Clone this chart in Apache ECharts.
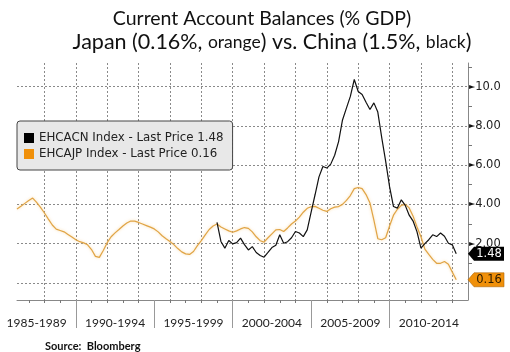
<!DOCTYPE html>
<html>
<head>
<meta charset="utf-8">
<script src="https://cdn.jsdelivr.net/npm/echarts@6/dist/echarts.min.js"></script>
<style>
  html, body { margin: 0; padding: 0; background: #fff; }
  #main { width: 510px; height: 352px; }
</style>
</head>
<body>
<div id="main"></div>
<script>
// x range in decimal years (first quarter shown .. right edge)
var firstQuarter = 1986.25;
var lastQuarter = 2015.0;
// axis marks on the time axis
var yearTicks = [1987, 1988, 1989, 1990, 1991, 1992, 1993, 1994, 1995, 1996, 1997, 1998, 1999, 2000,
    2001, 2002, 2003, 2004, 2005, 2006, 2007, 2008, 2009, 2010, 2011, 2012, 2013, 2014];
var gridYears = [1988, 1990, 1992, 1994, 1996, 1998, 2000, 2002, 2004, 2006, 2008, 2010, 2012, 2014];
var periodBreaks = [1990, 1995, 2000, 2005, 2010];
var periodCenters = [1987.5, 1992.5, 1997.5, 2002.5, 2007.5, 2012.5];
var periods = ['1985-1989', '1990-1994', '1995-1999', '2000-2004', '2005-2009', '2010-2014'];
// Japan current account % GDP, quarterly from 1986 Q2
var japanStart = 1986.25;
var japanCA = [
    3.76, 3.9, 4.05,
    4.2, 4.32, 4.1, 3.85,
    3.56, 3.25, 2.95, 2.74,
    2.67, 2.6, 2.47, 2.34,
    2.2, 2.1, 2.04, 1.94,
    1.7, 1.35, 1.3, 1.65,
    2.05, 2.35, 2.55, 2.72,
    2.9, 3.05, 3.15, 3.15,
    3.08, 3.0, 2.92, 2.84,
    2.75, 2.6, 2.4, 2.25,
    2.11, 1.95, 1.75, 1.58,
    1.48, 1.45, 1.6, 1.9,
    2.15, 2.45, 2.72, 2.9,
    3.0, 2.85, 2.75, 2.65,
    2.58, 2.65, 2.75, 2.82,
    2.78, 2.6, 2.35, 2.15,
    2.08, 2.3, 2.5, 2.7,
    2.72, 2.62, 2.8, 3.0,
    3.15, 3.35, 3.6, 3.8,
    3.88, 3.9, 3.8, 3.7,
    3.64, 3.78, 3.86, 3.89,
    4.0, 4.2, 4.45, 4.8,
    4.86, 4.8, 4.5, 4.07,
    3.2, 2.25, 2.2, 2.3,
    2.9, 3.45, 3.75, 3.95,
    4.0, 3.82, 3.4, 2.85,
    2.35, 1.72, 1.45, 1.2,
    1.0, 1.0, 1.09, 0.95,
    0.55, 0.16
];
// China current account % GDP, quarterly from 1999 Q1
var chinaStart = 1999.0;
var chinaCA = [
    3.08, 2.11, 1.77, 2.16,
    1.99, 2.05, 2.28, 1.95,
    1.68, 1.85, 1.55, 1.4,
    1.31, 1.55, 1.8, 1.92,
    2.45, 2.02, 2.1, 2.3,
    2.62, 2.54, 2.36, 2.7,
    3.6, 4.49, 5.4, 5.93,
    5.85, 6.05, 6.5, 7.2,
    8.3, 8.9, 9.5, 10.36,
    9.75, 9.6, 9.2, 8.83,
    9.17, 8.7, 7.4, 6.2,
    4.9, 3.89, 3.81, 4.23,
    3.95, 3.45, 3.15, 2.6,
    1.77, 2.0, 2.2, 2.45,
    2.36, 2.54, 2.38, 2.02,
    1.94, 1.48
];
var yLabelTicks = [2, 4, 6, 8, 10];
var yGridTicks = [0, 2, 4, 6, 8, 10];
var yMinorTicks = [1, 3, 5, 7, 9, 11];

function toPairs(start, arr) {
    return arr.map(function (v, i) { return [start + i * 0.25, v]; });
}
var japanData = toPairs(japanStart, japanCA);
var chinaData = toPairs(chinaStart, chinaCA);
var japanLast = japanCA[japanCA.length - 1];
var chinaLast = chinaCA[chinaCA.length - 1];

var dotted = { color: '#8a8a8a', type: [2, 2], width: 1 };
var tagPath = 'path://M0,7 L6,0 L36,0 L36,14 L6,14 Z';

var xBase = { type: 'value', min: firstQuarter, max: lastQuarter, position: 'bottom' };

var myChart = echarts.init(document.getElementById('main'));
var option = {
    animation: false,
    backgroundColor: '#fff',
    title: [{
        text: 'Current Account Balances (% GDP)',
        left: 257, top: 4, textAlign: 'center',
        textStyle: { fontFamily: 'Lato', fontSize: 19.5, fontWeight: 'normal', color: '#111' }
    }, {
        text: '{a|Japan (' + japanLast.toFixed(2) + '%, }{b|orange}{a|) vs. China (' + chinaLast.toFixed(1) + '%, }{b|black}{a|)}',
        left: 267, top: 26, textAlign: 'center',
        textStyle: {
            fontWeight: 'normal',
            rich: {
                a: { fontFamily: 'Lato', fontSize: 21.5, fontWeight: 'normal', color: '#111' },
                b: { fontFamily: 'Lato', fontSize: 17.5, fontWeight: 'normal', color: '#111' }
            }
        }
    }, {
        text: 'Source:  Bloomberg',
        left: 40, top: 336,
        textStyle: { fontFamily: 'Lato', fontSize: 11, fontWeight: 'bold', color: '#111' }
    }],
    legend: {
        orient: 'vertical',
        left: 17, top: 121,
        backgroundColor: '#e8e8e8',
        borderColor: '#444', borderWidth: 1, borderRadius: 3,
        padding: [11, 9, 10, 7],
        itemWidth: 10, itemHeight: 10, itemGap: 4,
        icon: 'rect',
        data: [
            { name: 'EHCACN Index', itemStyle: { color: '#000' } },
            { name: 'EHCAJP Index', itemStyle: { color: '#f0900a' } }
        ],
        formatter: function (name) {
            var v = name == 'EHCACN Index' ? chinaLast : japanLast;
            return name + ' - Last Price ' + v.toFixed(2);
        },
        textStyle: { fontFamily: 'DejaVu Sans', fontSize: 11.8, color: '#222' }
    },
    grid: { left: 17, right: 42, top: 63, bottom: 52 },
    xAxis: [Object.assign({}, xBase, {
        // yearly ticks on the axis line
        axisLine: { show: true, onZero: false, lineStyle: { color: '#888' } },
        axisTick: { show: true, length: 3, customValues: yearTicks, lineStyle: { color: '#777' } },
        axisLabel: { show: false },
        splitLine: { show: false }
    }), Object.assign({}, xBase, {
        // 5 year separators and period labels
        axisLine: { show: false, onZero: false },
        axisTick: { show: true, length: 28, customValues: periodBreaks, lineStyle: { color: '#999' } },
        axisLabel: {
            margin: 17,
            customValues: periodCenters,
            formatter: function (v) { return periods[periodCenters.indexOf(v)]; },
            fontFamily: 'Lato', fontSize: 12, color: '#222'
        },
        splitLine: { show: false }
    }), Object.assign({}, xBase, {
        // dotted grid every 2 years
        axisLine: { show: false, onZero: false },
        axisTick: { show: false, customValues: gridYears },
        axisLabel: { show: false },
        splitLine: { show: true, lineStyle: dotted }
    })],
    yAxis: [{
        type: 'value', position: 'right', min: -0.87, max: 11.2,
        axisLine: { show: true, lineStyle: { color: '#888' } },
        axisTick: { show: true, length: 4, customValues: yMinorTicks, lineStyle: { color: '#777' } },
        axisLabel: { show: false },
        splitLine: { show: false }
    }, {
        type: 'value', position: 'right', min: -0.87, max: 11.2,
        axisLine: { show: false },
        axisTick: { show: false, customValues: yGridTicks },
        axisLabel: {
            margin: 1,
            customValues: yLabelTicks,
            formatter: function (v) {
                return '{arr|\u25BA}{v|' + (v >= 10 ? v.toFixed(1) : v.toFixed(2)) + '}';
            },
            rich: {
                arr: { fontFamily: 'DejaVu Sans', fontSize: 8, color: '#111' },
                v: { fontFamily: 'DejaVu Sans', fontSize: 11.5, color: '#222' }
            }
        },
        splitLine: { show: true, lineStyle: dotted }
    }],
    series: [{
        name: 'EHCAJP Index',
        type: 'line',
        data: japanData,
        showSymbol: false,
        lineStyle: { color: '#e0a445', width: 1.2, shadowBlur: 3, shadowColor: 'rgba(245,190,100,0.6)' },
        itemStyle: { color: '#e0a445' },
        markPoint: {
            silent: true,
            symbol: tagPath, symbolSize: [36, 14], symbolOffset: [18, 0],
            itemStyle: { color: '#f0900a', borderColor: '#a85f00', borderWidth: 0.5 },
            label: { show: true, offset: [3, 0], color: '#2a1a00', fontFamily: 'DejaVu Sans', fontSize: 11.5,
                formatter: function (p) { return p.value.toFixed(2); } },
            data: [{ coord: [lastQuarter, japanLast], value: japanLast }]
        }
    }, {
        name: 'EHCACN Index',
        type: 'line',
        data: chinaData,
        showSymbol: false,
        lineStyle: { color: '#111', width: 1.2 },
        itemStyle: { color: '#111' },
        markPoint: {
            silent: true,
            symbol: tagPath, symbolSize: [36, 14], symbolOffset: [18, 0],
            itemStyle: { color: '#000' },
            label: { show: true, offset: [3, 0], color: '#fff', fontFamily: 'DejaVu Sans', fontSize: 11.5,
                formatter: function (p) { return p.value.toFixed(2); } },
            data: [{ coord: [lastQuarter, chinaLast], value: chinaLast }]
        }
    }]
};
myChart.setOption(option);
</script>
</body>
</html>
